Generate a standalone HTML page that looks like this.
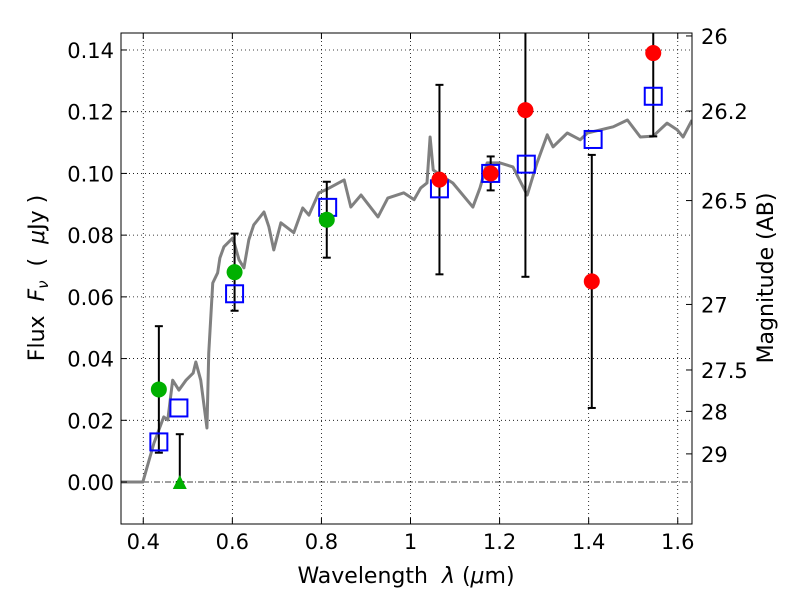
<!DOCTYPE html>
<html><head><meta charset="utf-8"><style>
body{margin:0;background:#fff;}
svg text{font-family:"DejaVu Sans","Liberation Sans",sans-serif;fill:#000;white-space:pre;}
</style></head><body>
<svg id="chart" width="800" height="600" xmlns="http://www.w3.org/2000/svg">
<defs><clipPath id="pc"><rect x="121" y="33" width="571" height="491"/></clipPath></defs>
<rect width="800" height="600" fill="#fff"/>
<g id="grid"></g>
<g id="plot" clip-path="url(#pc)"></g>
<rect x="121" y="33" width="571" height="491" fill="none" stroke="#000" stroke-width="1"/>
<g id="axes"></g>
<text x="406" y="583" text-anchor="middle" font-size="22">Wavelength&#160;&#160;<tspan font-style="italic">λ</tspan> (<tspan font-style="italic">μ</tspan>m)</text>
<text transform="translate(44,278) rotate(-90)" text-anchor="middle" font-size="22">Flux&#160;&#160;<tspan font-style="italic">F<tspan font-size="15" dy="4">ν</tspan></tspan><tspan dy="-4">&#160;&#160;(&#160;&#160;</tspan><tspan font-style="italic">μ</tspan>Jy )</text>
<text transform="translate(773,278) rotate(-90)" text-anchor="middle" font-size="22">Magnitude (AB)</text>
</svg>
<script>
const specWave=[0.35,0.399,0.424,0.446,0.455,0.466,0.480,0.496,0.512,0.518,0.529,0.543,0.547,0.556,0.567,0.572,0.581,0.601,0.615,0.626,0.637,0.648,0.671,0.682,0.693,0.709,0.738,0.758,0.772,0.794,0.810,0.851,0.866,0.889,0.927,0.949,0.985,1.008,1.023,1.037,1.044,1.051,1.073,1.095,1.140,1.156,1.172,1.201,1.230,1.262,1.284,1.307,1.320,1.352,1.381,1.397,1.426,1.455,1.487,1.516,1.545,1.576,1.599,1.612,1.632];
const specFlux=[0,0,0.0126,0.0211,0.0201,0.0330,0.0298,0.0330,0.0353,0.0389,0.0330,0.0175,0.0418,0.0645,0.0678,0.0726,0.0762,0.0791,0.0720,0.0694,0.0785,0.0833,0.0875,0.0827,0.0752,0.0840,0.0808,0.0888,0.0865,0.0937,0.0947,0.0979,0.0891,0.0930,0.0859,0.0920,0.0937,0.0915,0.0953,0.0969,0.1118,0.1011,0.0989,0.0969,0.0891,0.0953,0.1034,0.1034,0.1021,0.0930,0.1034,0.1125,0.1086,0.1131,0.1109,0.1131,0.1141,0.1151,0.1173,0.1118,0.1121,0.1163,0.1141,0.1118,0.1173];
const greenWave=[0.435,0.605,0.812];
const greenFlux=[0.030,0.068,0.085];
const greenErr=[0.0205,0.0125,0.0123];
const limitWave=[0.482];
const limitFlux=[0.0];
const limitErr=[0.0155];
const redWave=[1.065,1.18,1.258,1.407,1.545];
const redFlux=[0.098,0.100,0.1205,0.065,0.139];
const redErr=[0.0307,0.0055,0.054,0.041,0.027];
const modelWave=[0.435,0.48,0.605,0.814,1.065,1.18,1.26,1.41,1.545];
const modelFlux=[0.013,0.024,0.061,0.089,0.095,0.100,0.103,0.111,0.125];
const xTicks=[0.4,0.6,0.8,1.0,1.2,1.4,1.6];
const xTickLabels=["0.4","0.6","0.8","1","1.2","1.4","1.6"];
const yTicks=[0,0.02,0.04,0.06,0.08,0.10,0.12,0.14];
const yTickLabels=["0.00","0.02","0.04","0.06","0.08","0.10","0.12","0.14"];
const magTicks=[26,26.2,26.5,27,27.5,28,29];
const magTickLabels=["26","26.2","26.5","27","27.5","28","29"];

const NS="http://www.w3.org/2000/svg";
const L=121,R=692,T=33,B=524,xmin=0.35,xmax=1.632,ymin=-0.0136,ymax=0.1455;
function X(v){return L+(v-xmin)/(xmax-xmin)*(R-L);}
function Y(v){return B-(v-ymin)/(ymax-ymin)*(B-T);}
function mk(tag,attrs,parent){const e=document.createElementNS(NS,tag);for(const k in attrs)e.setAttribute(k,attrs[k]);parent.appendChild(e);return e;}
const grid=document.getElementById('grid'),plot=document.getElementById('plot'),axes=document.getElementById('axes');

xTicks.forEach((t,i)=>{
 const x=X(t);
 const g=mk('line',{x1:x,x2:x,y1:T,y2:B,stroke:'#000','stroke-width':0.8,'stroke-dasharray':'1,3'},grid);
 
 
 mk('line',{x1:x,x2:x,y1:B,y2:B-6,stroke:'#000'},axes);
 mk('line',{x1:x,x2:x,y1:T,y2:T+6,stroke:'#000'},axes);
 const tx=mk('text',{x:x,y:B+25,'text-anchor':'middle','font-size':21},axes);
 tx.textContent=xTickLabels[i];
 
 
});
yTicks.forEach((t,i)=>{
 const y=Y(t);
 if(t!==0){
 const g=mk('line',{x1:L,x2:R,y1:y,y2:y,stroke:'#000','stroke-width':0.8,'stroke-dasharray':'1,3'},grid);
 
 
 }
 mk('line',{x1:L,x2:L+6,y1:y,y2:y,stroke:'#000'},axes);
 const tx=mk('text',{x:L-7,y:y+8,'text-anchor':'end','font-size':21},axes);
 tx.textContent=yTickLabels[i];
 
 
});
magTicks.forEach((m,i)=>{
 const y=Y(Math.pow(10,-0.4*(m-23.9)));
 mk('line',{x1:R,x2:R-6,y1:y,y2:y,stroke:'#000'},axes);
 const tx=mk('text',{x:R+9,y:y+8,'font-size':21},axes);
 tx.textContent=magTickLabels[i];
 
 
});
const zl=mk('line',{x1:L,x2:R,y1:Y(0),y2:Y(0),stroke:'#000','stroke-width':0.8,'stroke-dasharray':'6,2,1,2'},grid);



const sp=mk('polyline',{points:specWave.map((w,i)=>X(w)+','+Y(specFlux[i])).join(' '),fill:'none',stroke:'#808080','stroke-width':3,'stroke-linejoin':'round'},plot);



function errbar(x,f,e){
 const y1=Y(f+e),y2=Y(f-e);
 mk('line',{x1:x,x2:x,y1:y1,y2:y2,stroke:'#000','stroke-width':2},plot);
 mk('line',{x1:x-4,x2:x+4,y1:y1,y2:y1,stroke:'#000','stroke-width':2},plot);
 mk('line',{x1:x-4,x2:x+4,y1:y2,y2:y2,stroke:'#000','stroke-width':2},plot);
}
greenWave.forEach((w,i)=>errbar(X(w),greenFlux[i],greenErr[i]));
redWave.forEach((w,i)=>errbar(X(w),redFlux[i],redErr[i]));
limitWave.forEach((w,i)=>{
 const x=X(w),y1=Y(limitFlux[i]+limitErr[i]),y0=Y(limitFlux[i]);
 mk('line',{x1:x,x2:x,y1:y1,y2:y0,stroke:'#000','stroke-width':2},plot);
 mk('line',{x1:x-4,x2:x+4,y1:y1,y2:y1,stroke:'#000','stroke-width':2},plot);
 mk('line',{x1:x-4,x2:x+4,y1:y0,y2:y0,stroke:'#000','stroke-width':2},plot);
 const tr=mk('polygon',{points:`${x},${y0-7} ${x-7},${y0+7} ${x+7},${y0+7}`,fill:'#00b000'},plot);
 
 
});
modelWave.forEach((w,i)=>{
 const r=mk('rect',{x:X(w)-8.5,y:Y(modelFlux[i])-8.5,width:17,height:17,fill:'none',stroke:'#0000ff','stroke-width':2},plot);
 
 
});
greenWave.forEach((w,i)=>{
 const c=mk('circle',{cx:X(w),cy:Y(greenFlux[i]),r:8,fill:'#00b000'},plot);
 
 
});
redWave.forEach((w,i)=>{
 const c=mk('circle',{cx:X(w),cy:Y(redFlux[i]),r:8,fill:'#ff0000'},plot);
 
 
});
</script>
</body></html>
